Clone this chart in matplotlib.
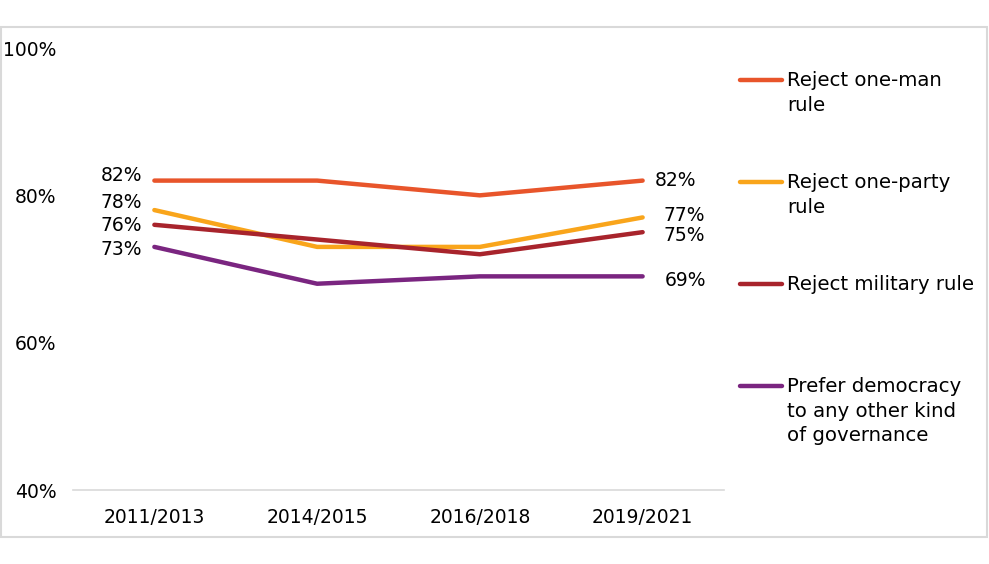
import matplotlib
matplotlib.use("Agg")
import matplotlib.pyplot as plt
from matplotlib.lines import Line2D
from matplotlib.patches import Rectangle

categories = ["2011/2013", "2014/2015", "2016/2018", "2019/2021"]
one_man = [82, 82, 80, 82]
one_party = [78, 73, 73, 77]
military = [76, 74, 72, 75]
democracy = [73, 68, 69, 69]

series_names = ["Reject one-man\nrule", "Reject one-party\nrule", "Reject military rule",
                "Prefer democracy\nto any other kind\nof governance"]
series_values = [one_man, one_party, military, democracy]
colors = ["#E8552B", "#F9A51B", "#A8242C", "#7A2580"]

plt.rcParams['font.family'] = ['DejaVu Sans']
FS = 13.5
LFS = 14.2

fig = plt.figure(figsize=(9.89, 5.64), dpi=100)
W, H = 989, 564
ax = fig.add_axes([73 / W, 1 - 490 / H, (724 - 73) / W, (490 - 48) / H])

x = [i + 0.5 for i in range(len(categories))]
for vals, c in zip(series_values, colors):
    ax.plot(x, vals, color=c, lw=3.2, solid_capstyle='round')

ax.set_xlim(0, 4)
ax.set_ylim(40, 100)
ax.set_yticks([40, 60, 80, 100])
ax.set_yticklabels([f"{v}%" for v in [40, 60, 80, 100]], fontsize=FS)
ax.set_xticks(x)
ax.set_xticklabels(categories, fontsize=FS)
ax.tick_params(length=0, pad=12, axis='y')
ax.tick_params(length=0, pad=13, axis='x')
for s in ['top', 'right', 'left']:
    ax.spines[s].set_visible(False)
ax.spines['bottom'].set_color('#D9D9D9')
ax.spines['bottom'].set_linewidth(1.2)

# data labels, first point (left), offsets in pixels
left_offsets = [(-12, 5), (-12, 8), (-12, -1), (-12, -3)]
for vals, (dx, dy) in zip(series_values, left_offsets):
    ax.annotate(f"{vals[0]}%", (x[0], vals[0]), xytext=(dx, dy), textcoords='offset pixels',
                ha='right', va='center', fontsize=FS)
right_offsets = [(12, 0), (21, 2), (21, -3), (22, -4)]
for vals, (dx, dy) in zip(series_values, right_offsets):
    ax.annotate(f"{vals[-1]}%", (x[-1], vals[-1]), xytext=(dx, dy), textcoords='offset pixels',
                ha='left', va='center', fontsize=FS)

# legend drawn manually
leg_y = [80, 182, 284, 386]
for name, c, yy in zip(series_names, colors, leg_y):
    fy = 1 - yy / H
    fig.add_artist(Line2D([740 / W, 782 / W], [fy, fy], color=c, lw=3.2, solid_capstyle='round'))
    fig.text(787 / W, fy + 9 / H, name, fontsize=LFS, ha='left', va='top', linespacing=1.38)

# outer border
fig.add_artist(Rectangle((1 / W, 1 - 537 / H), 986 / W, (537 - 27) / H, fill=False,
                         edgecolor='#D9D9D9', lw=1.5, transform=fig.transFigure))

fig.savefig("out.png", dpi=100)
